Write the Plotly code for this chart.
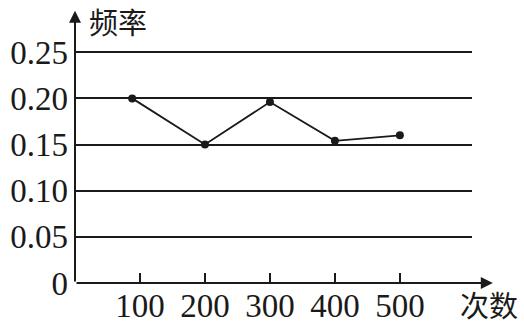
import plotly.graph_objects as go

# data
trials = [88, 200, 300, 400, 500]
freq = [0.200, 0.150, 0.196, 0.154, 0.160]
x_ticks = [100, 200, 300, 400, 500]
x_tick_text = ["100", "200", "300", "400", "500"]
y_ticks = [0, 0.05, 0.10, 0.15, 0.20, 0.25]
y_tick_text = ["0", "0.05", "0.10", "0.15", "0.20", "0.25"]
y_title = "频率"
x_title = "次数"

W, H = 524, 326
L, R, T, B = 75, 52, 43, 43
PW, PH = W - L - R, H - T - B
X_MAX = 611
Y_MAX = 0.26

ink = "#1a1a1a"
serif = "Times New Roman, Liberation Serif, DejaVu Serif, serif"
cjk = "Noto Sans CJK SC"


def px(xp):
    return (xp - L) / PW


def py(yp):
    return (H - B - yp) / PH


fig = go.Figure()
fig.add_trace(go.Scatter(
    x=trials, y=freq, mode="lines+markers",
    line=dict(color=ink, width=1.8),
    marker=dict(color=ink, size=8),
    cliponaxis=False, showlegend=False,
))

fig.update_layout(
    width=W, height=H,
    margin=dict(l=L, r=R, t=T, b=B, pad=0, autoexpand=False),
    paper_bgcolor="white", plot_bgcolor="white",
    font=dict(family=serif, size=33, color=ink),
    xaxis=dict(
        range=[0, X_MAX], showgrid=False, zeroline=False, showline=False,
        automargin=False,
        tickmode="array", tickvals=x_ticks, ticktext=x_tick_text,
        ticks="inside", ticklen=10, tickwidth=1.5, tickcolor=ink,
        tickfont=dict(family=serif, size=33, color=ink),
        ticklabelstandoff=0,
    ),
    yaxis=dict(
        range=[0, Y_MAX], showgrid=True, gridcolor=ink, gridwidth=2,
        zeroline=False, showline=False, automargin=False,
        tickmode="array", tickvals=y_ticks, ticktext=y_tick_text,
        ticks="", tickfont=dict(family=serif, size=33, color=ink),
        ticklabelstandoff=6,
    ),
    annotations=[
        # x axis with arrow
        dict(x=643, y=0, xref="x", yref="y", ax=0, ay=0, axref="x", ayref="y",
             text="", showarrow=True, arrowhead=2, arrowsize=1.2,
             arrowwidth=2, arrowcolor=ink),
        # y axis with arrow
        dict(x=0, y=0.295, xref="x", yref="y", ax=0, ay=0, axref="x", ayref="y",
             text="", showarrow=True, arrowhead=2, arrowsize=1.2,
             arrowwidth=2, arrowcolor=ink),
        dict(x=px(118), y=py(21), xref="paper", yref="paper",
             text=y_title, showarrow=False, xanchor="center", yanchor="middle",
             borderpad=0, font=dict(family=cjk, size=29, color=ink)),
        dict(x=px(489), y=py(304), xref="paper", yref="paper",
             text=x_title, showarrow=False, xanchor="center", yanchor="middle",
             borderpad=0, font=dict(family=cjk, size=29, color=ink)),
    ],
)

fig.write_html("out.html")
